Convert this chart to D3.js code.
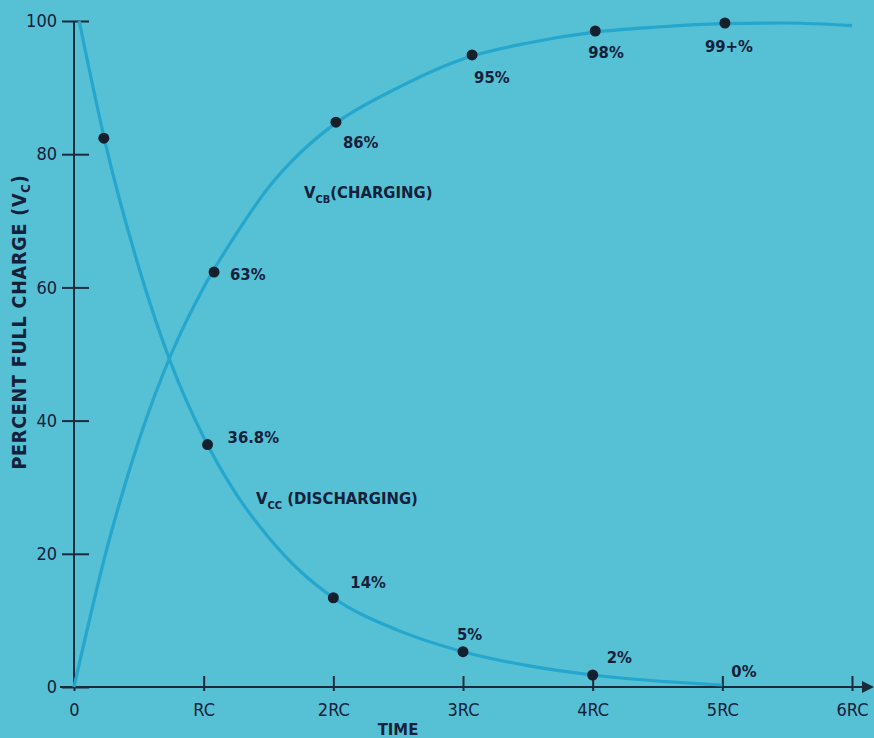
<!DOCTYPE html>
<html>
<head>
<meta charset="utf-8">
<script src="https://cdn.jsdelivr.net/npm/d3@7"></script>
<style>
  html, body { margin: 0; padding: 0; background: #56c0d5; }
  svg { display: block; }
  text { font-family: "DejaVu Sans Condensed", "Liberation Sans", sans-serif; fill: #14213a; }
</style>
</head>
<body>
<div id="chart"></div>
<script>
// time in RC units, values in percent of full charge
const xTicks = [0, 1, 2, 3, 4, 5, 6];
const xTickLabels = ['0', 'RC', '2RC', '3RC', '4RC', '5RC', '6RC'];
const yTicks = [0, 20, 40, 60, 80, 100];

// curves
const chargeT = [0, 0.25, 0.5, 0.75, 1, 1.25, 1.5, 1.75, 2, 2.5, 3, 3.5, 4, 4.5, 5, 5.5, 6];
const chargeV = [0, 20.5, 37, 50, 60, 68, 75, 80.3, 84.4, 90, 94.3, 96.7, 98.3, 99.1, 99.6, 99.7, 99.3];
const dischargeT = [0.04, 0.25, 0.5, 0.75, 1, 1.25, 1.5, 1.75, 2, 2.5, 3, 3.5, 4, 4.5, 5];
const dischargeV = [100, 81, 63, 48.5, 37.5, 29, 22.5, 17.3, 13.4, 8.5, 5.3, 3.2, 1.8, 0.9, 0.3];

// marked points + labels
const chargeDotT = [1.08, 2.02, 3.07, 4.02, 5.02];
const chargeDotV = [62.3, 84.8, 94.9, 98.5, 99.7];
const chargeLabels = ['63%', '86%', '95%', '98%', '99+%'];
const dischargeDotT = [0.23, 1.03, 2.0, 3.0, 4.0];
const dischargeDotV = [82.4, 36.4, 13.4, 5.3, 1.8];
const dischargeLabels = ['', '36.8%', '14%', '5%', '2%'];

const W = 874, H = 738;
const x = d3.scaleLinear().domain([0, 6]).range([74, 852]);
const y = d3.scaleLinear().domain([0, 100]).range([687, 21]);

const svg = d3.select('#chart').append('svg').attr('width', W).attr('height', H);
svg.append('rect').attr('width', W).attr('height', H).attr('fill', '#56c0d5');

const ink = '#1b2b3c';

// y axis
const yAxis = svg.append('g').attr('transform', `translate(${x(0)},0)`)
  .call(d3.axisLeft(y).tickValues(yTicks).tickSize(12).tickPadding(5));
yAxis.select('.domain').attr('stroke', ink).attr('stroke-width', 2).attr('d', `M0,${y(100)}V${y(0)}`);
yAxis.selectAll('.tick line').attr('stroke', ink).attr('stroke-width', 2).attr('x1', 15);
yAxis.selectAll('.tick text').style('font-size', '18px').attr('fill', ink).attr('font-family', null);

// x axis
const xAxis = svg.append('g').attr('transform', `translate(0,${y(0)})`)
  .call(d3.axisBottom(x).tickValues(xTicks).tickFormat((d, i) => xTickLabels[i]).tickSize(4).tickPadding(12));
xAxis.select('.domain').attr('stroke', ink).attr('stroke-width', 2).attr('d', `M${x(0) - 14},0H868`);
xAxis.selectAll('.tick line').attr('stroke', ink).attr('stroke-width', 2).attr('y1', -11);
xAxis.selectAll('.tick text').style('font-size', '18px').attr('fill', ink).attr('font-family', null);
svg.append('path').attr('d', `M874,${y(0)}l-12,-6v12z`).attr('fill', ink);

// curves
const line = d3.line().x(d => x(d[0])).y(d => y(d[1])).curve(d3.curveMonotoneX);
svg.append('path').datum(chargeT.map((t, i) => [t, chargeV[i]]))
  .attr('d', line).attr('fill', 'none').attr('stroke', '#25a6cc').attr('stroke-width', 3.2);
svg.append('path').datum(dischargeT.map((t, i) => [t, dischargeV[i]]))
  .attr('d', line).attr('fill', 'none').attr('stroke', '#25a6cc').attr('stroke-width', 3.2);

// dots
const dots = chargeDotT.map((t, i) => [t, chargeDotV[i]]).concat(dischargeDotT.map((t, i) => [t, dischargeDotV[i]]));
svg.selectAll('circle.dot').data(dots).enter().append('circle')
  .attr('cx', d => x(d[0])).attr('cy', d => y(d[1])).attr('r', 5.5).attr('fill', '#15202e');

// point labels (offsets in px from the dot)
const chargeOff = [[16, 8], [7, 26], [2, 28], [-7, 27], [-20, 29]];
const dischargeOff = [[0, 0], [20, -2], [17, -10], [-6, -12], [14, -12]];
const lab = svg.append('g').style('font-size', '16.5px').style('font-weight', 'bold');
chargeLabels.forEach((s, i) => {
  lab.append('text').attr('x', x(chargeDotT[i]) + chargeOff[i][0]).attr('y', y(chargeDotV[i]) + chargeOff[i][1]).text(s);
});
dischargeLabels.forEach((s, i) => {
  if (!s) return;
  lab.append('text').attr('x', x(dischargeDotT[i]) + dischargeOff[i][0]).attr('y', y(dischargeDotV[i]) + dischargeOff[i][1]).text(s);
});
lab.append('text').attr('x', x(5) + 9).attr('y', y(0) - 10).text('0%');

// curve names
const n1 = svg.append('text').attr('x', 304).attr('y', 198).style('font-size', '16.5px').style('font-weight', 'bold');
n1.append('tspan').text('V');
n1.append('tspan').attr('dy', 5).style('font-size', '11px').text('CB');
n1.append('tspan').attr('dy', -5).text('(CHARGING)');
const n2 = svg.append('text').attr('x', 256).attr('y', 504).style('font-size', '16.5px').style('font-weight', 'bold');
n2.append('tspan').text('V');
n2.append('tspan').attr('dy', 5).style('font-size', '11px').text('CC');
n2.append('tspan').attr('dy', -5).text(' (DISCHARGING)');

// axis titles
svg.append('text').attr('x', 398).attr('y', 735).attr('text-anchor', 'middle')
  .style('font-size', '16.5px').style('font-weight', 'bold').text('TIME');
const yt = svg.append('text').attr('transform', 'translate(26,322) rotate(-90)').attr('text-anchor', 'middle')
  .style('font-size', '19.5px').style('font-weight', 'bold').style('letter-spacing', '0.8px');
yt.append('tspan').text('PERCENT FULL CHARGE (V');
yt.append('tspan').attr('dy', 4).style('font-size', '13px').text('C');
yt.append('tspan').attr('dy', -4).text(')');
</script>
</body>
</html>
